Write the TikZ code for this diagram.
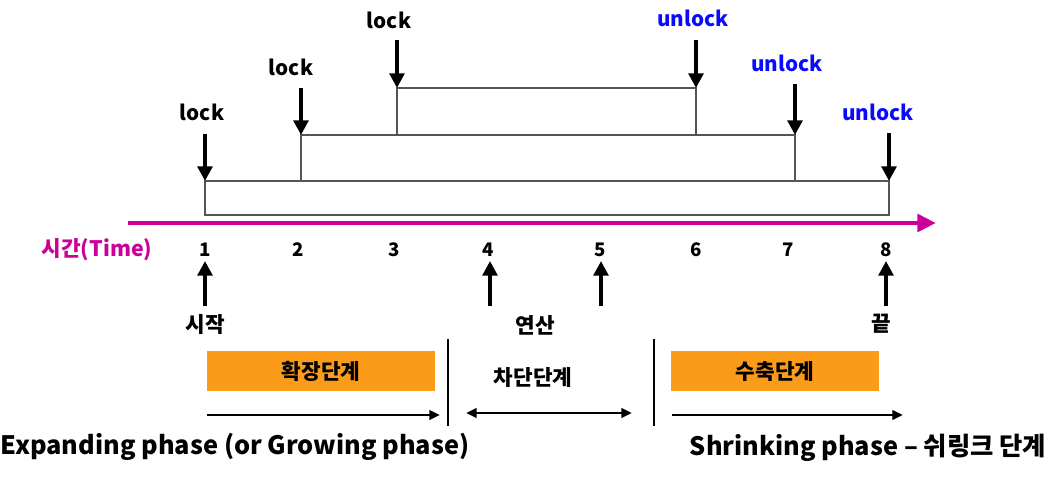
\documentclass[tikz,border=0pt]{standalone}
\usepackage{fontspec}
\setmainfont{Noto Sans CJK KR}
\usetikzlibrary{arrows.meta}
\definecolor{mag}{RGB}{204,0,153}
\definecolor{orng}{RGB}{250,155,25}
\definecolor{ublue}{RGB}{10,10,255}
\definecolor{boxgray}{RGB}{85,85,85}
\begin{document}
\begin{tikzpicture}[x=0.75pt,y=-0.75pt,
  bigarrow/.style={line width=3.2pt,-{Triangle[width=11pt,length=11pt]}},
  thinarrow/.style={line width=2pt,-{Triangle[width=7pt,length=8pt]}},
  boxline/.style={draw=boxgray,line width=1.2pt},
  lbl/.style={font=\bfseries\fontsize{15.5}{18}\selectfont,inner sep=0pt},
  num/.style={font=\bfseries\fontsize{14}{16}\selectfont,inner sep=0pt},
  kor/.style={font=\bfseries\fontsize{16}{18}\selectfont,inner sep=0pt},
  big/.style={font=\bfseries\fontsize{19}{22}\selectfont,inner sep=0pt},
  phasebox/.style={fill=orng,inner sep=0pt,font=\bfseries\fontsize{16}{18}\selectfont}]
\useasboundingbox (0,0) rectangle (1056,494);

% nested lock boxes
\draw[boxline] (205,181) rectangle (889,215);
\draw[boxline] (301,135) rectangle (795,181);
\draw[boxline] (397,88) rectangle (696,135);
\coordinate (c1) at (205,181);
\coordinate (c2) at (301,135);
\coordinate (c3) at (397,88);
\coordinate (c6) at (696,88);
\coordinate (c7) at (795,135);
\coordinate (c8) at (889,181);

% lock / unlock labels
\node[lbl] (l1) at (202,112) {lock};
\node[lbl] (l2) at (291,67) {lock};
\node[lbl] (l3) at (389,20) {lock};
\node[lbl,text=ublue] (u6) at (693,18) {unlock};
\node[lbl,text=ublue] (u7) at (787,63) {unlock};
\node[lbl,text=ublue] (u8) at (878,112) {unlock};

\coordinate (s1) at (205,134);
\coordinate (s2) at (301,88);
\coordinate (s3) at (397,40);
\coordinate (s6) at (696,40);
\coordinate (s7) at (795,84);
\coordinate (s8) at (889,133);
\foreach \a/\b in {s1/c1,s2/c2,s3/c3,s6/c6,s7/c7,s8/c8}
  \draw[bigarrow] (\a) -- (\b);

% time axis
\coordinate (t0) at (128,223);
\coordinate (t1) at (936,223);
\draw[mag,line width=3.5pt,-{Triangle[width=13pt,length=14pt]}] (t0) -- (t1);
\node[font=\bfseries\fontsize{16}{18}\selectfont,text=mag,inner sep=0pt] (tl) at (97,250) {시간(Time)};

\node[num] (n1) at (205,250) {1};
\node[num] (n2) at (298,250) {2};
\node[num] (n3) at (394,250) {3};
\node[num] (n4) at (488,250) {4};
\node[num] (n5) at (600,250) {5};
\node[num] (n6) at (696,250) {6};
\node[num] (n7) at (788,250) {7};
\node[num] (n8) at (886,250) {8};

% up arrows
\coordinate (a1) at (205,306); \coordinate (h1) at (205,261);
\coordinate (a4) at (490,306); \coordinate (h4) at (490,261);
\coordinate (a5) at (601,306); \coordinate (h5) at (601,261);
\coordinate (a8) at (886,306); \coordinate (h8) at (886,261);
\foreach \a/\b in {a1/h1,a4/h4,a5/h5,a8/h8}
  \draw[bigarrow] (\a) -- (\b);

\node[kor] (start) at (205,325) {시작};
\node[kor] (op) at (535,325) {연산};
\node[kor] (end) at (881,324) {끝};

% phase boxes
\node[phasebox,minimum width=228*0.75pt,minimum height=40*0.75pt] (grow) at (321,371) {확장단계};
\node[phasebox,minimum width=208*0.75pt,minimum height=40*0.75pt] (shrink) at (775,371) {수축단계};
\node[kor] (block) at (533,378) {차단단계};

% separators
\coordinate (v1a) at (448,339); \coordinate (v1b) at (448,426);
\coordinate (v2a) at (654,339); \coordinate (v2b) at (654,426);
\draw[line width=2.2pt] (v1a) -- (v1b);
\draw[line width=2.2pt] (v2a) -- (v2b);

% phase arrows
\coordinate (e0) at (207,415); \coordinate (e1) at (440,415);
\coordinate (m0) at (466,413); \coordinate (m1) at (632,413);
\coordinate (k0) at (672,415); \coordinate (k1) at (903,415);
\draw[thinarrow] (e0) -- (e1);
\draw[line width=2pt,{Triangle[width=7pt,length=8pt]}-{Triangle[width=7pt,length=8pt]}] (m0) -- (m1);
\draw[thinarrow] (k0) -- (k1);

\node[big] (expl) at (235,447) {Expanding phase (or Growing phase)};
\node[big] (shrl) at (868,448) {Shrinking phase – 쉬링크 단계};
\end{tikzpicture}
\end{document}
